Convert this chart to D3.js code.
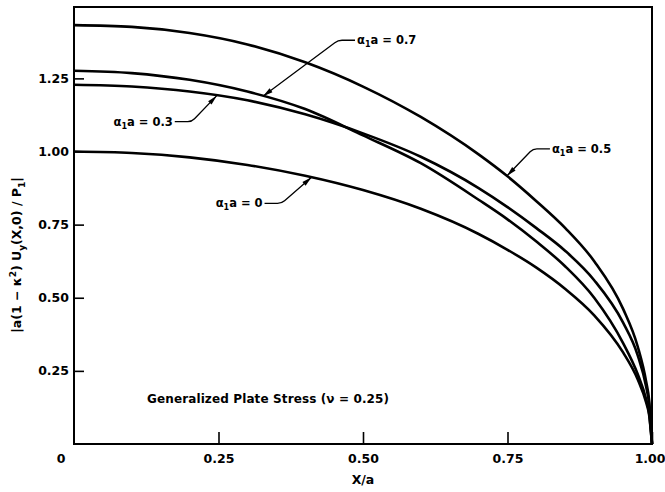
<!DOCTYPE html>
<html>
<head>
<meta charset="utf-8">
<script src="https://cdn.jsdelivr.net/npm/d3@7"></script>
<style>
  html, body { margin: 0; padding: 0; background: #fff; }
  svg { display: block; }
  text { font-family: 'DejaVu Sans', sans-serif; font-weight: bold; fill: #000; }
</style>
</head>
<body>
<svg id="chart" width="665" height="492"></svg>
<script>
// x positions (X/a) the curves were read at
const xValues = [0, 0.1, 0.2, 0.3, 0.4, 0.5, 0.6, 0.7, 0.75, 0.8, 0.85, 0.9, 0.95, 0.975, 0.99, 0.995, 1.0]

// |a(1-k^2) Uy(X,0) / P1| for each alpha1*a
const alpha0 = [1.000, 0.995, 0.980, 0.954, 0.917, 0.868, 0.804, 0.718, 0.664, 0.603, 0.530, 0.440, 0.313, 0.222, 0.141, 0.100, 0]
const alpha03 = [1.228, 1.222, 1.205, 1.175, 1.127, 1.062, 0.982, 0.875, 0.810, 0.738, 0.660, 0.560, 0.415, 0.305, 0.195, 0.137, 0]
const alpha05 = [1.432, 1.426, 1.405, 1.366, 1.305, 1.222, 1.118, 0.990, 0.915, 0.830, 0.738, 0.625, 0.462, 0.335, 0.212, 0.150, 0]
const alpha07 = [1.276, 1.268, 1.245, 1.205, 1.145, 1.055, 0.960, 0.835, 0.768, 0.692, 0.607, 0.500, 0.345, 0.240, 0.152, 0.106, 0]

const seriesNames = ['0', '0.3', '0.5', '0.7']
const seriesValues = [alpha0, alpha03, alpha05, alpha07]

const xTicks = [0.25, 0.5, 0.75, 1.0]
const yTicks = [0.25, 0.5, 0.75, 1.0, 1.25]

// where each leader arrow touches its curve (X/a)
const noteAt = [0.411, 0.247, 0.749, 0.327]

const svg = d3.select('#chart')
const margin = {left: 74, right: 13, top: 7, bottom: 48}
const W = 665, H = 492

const x = d3.scaleLinear().domain([0, 1]).range([margin.left, W - margin.right])
const y = d3.scaleLinear().domain([0, 1.494]).range([H - margin.bottom, margin.top])

const series = seriesNames.map((name, i) => ({
  name,
  points: xValues.map((xv, j) => ({x: xv, y: seriesValues[i][j]})),
}))

// frame
svg.append('rect')
  .attr('x', x(0)).attr('y', y.range()[1])
  .attr('width', x(1) - x(0)).attr('height', y(0) - y.range()[1])
  .attr('fill', 'none').attr('stroke', '#000').attr('stroke-width', 2)

// axes, ticks pointing inward
const xAxis = svg.append('g')
  .attr('transform', `translate(0,${y(0)})`)
  .call(d3.axisBottom(x).tickValues(xTicks).tickSizeInner(-12).tickSizeOuter(0).tickPadding(10).tickFormat(d3.format('.2f')))
const yAxis = svg.append('g')
  .attr('transform', `translate(${x(0)},0)`)
  .call(d3.axisLeft(y).tickValues(yTicks).tickSizeInner(-10).tickSizeOuter(0).tickPadding(5).tickFormat(d3.format('.2f')))

;[xAxis, yAxis].forEach((g) => {
  g.select('.domain').remove()
  g.selectAll('line').attr('stroke', '#000').attr('stroke-width', 1.6)
  g.selectAll('text').attr('font-family', 'DejaVu Sans').attr('font-size', 12.5).attr('font-weight', 'bold')
})
// last x label sits on the page edge, keep it inside
xAxis.selectAll('.tick').filter((d) => d === 1).select('text').attr('text-anchor', 'end').attr('x', 665 - x(1))

svg.append('text')
  .attr('x', 61).attr('y', 459).attr('dy', '0.35em')
  .attr('text-anchor', 'middle').attr('font-size', 12.5)
  .text('0')

// curves
const line = d3.line().x((d) => x(d.x)).y((d) => y(d.y)).curve(d3.curveMonotoneX)
svg.append('g')
  .selectAll('path')
  .data(series)
  .join('path')
  .attr('d', (d) => line(d.points))
  .attr('fill', 'none')
  .attr('stroke', '#000')
  .attr('stroke-width', 2.6)

// axis titles
svg.append('text')
  .attr('x', x(0.5)).attr('y', 480).attr('dy', '0.35em')
  .attr('text-anchor', 'middle').attr('font-size', 12.5)
  .text('X/a')

const yt = svg.append('text')
  .attr('transform', 'translate(17,255) rotate(-90)')
  .attr('text-anchor', 'middle').attr('dy', '0.35em').attr('font-size', 12.5)
yt.append('tspan').text('|a(1 − κ')
yt.append('tspan').attr('dy', -5).attr('font-size', 9).text('2')
yt.append('tspan').attr('dy', 5).text(') U')
yt.append('tspan').attr('dy', 4).attr('font-size', 9).text('y')
yt.append('tspan').attr('dy', -4).text('(X,0) / P')
yt.append('tspan').attr('dy', 4).attr('font-size', 9).text('1')
yt.append('tspan').attr('dy', -4).text('|')

svg.append('text')
  .attr('x', 147).attr('y', 399).attr('dy', '0.35em')
  .attr('font-size', 12).attr('letter-spacing', 0.12)
  .text('Generalized Plate  Stress (ν = 0.25)')

// leader annotations: bend offset from the tip and which side the label sits
const leaders = [
  {dx: -30, dy: 26, side: -1},
  {dx: -25, dy: 26, side: -1},
  {dx: 26, dy: -27, side: 1},
  {dx: 75, dy: -56, side: 1},
]

const interp = (pts, xv) => {
  const i = d3.bisector((d) => d.x).right(pts, xv) - 1
  const a = pts[Math.max(0, i)], b = pts[Math.min(pts.length - 1, i + 1)]
  const t = b.x === a.x ? 0 : (xv - a.x) / (b.x - a.x)
  return a.y + t * (b.y - a.y)
}

const notes = svg.append('g')
series.forEach((s, i) => {
  const tx = x(noteAt[i])
  const ty = y(interp(s.points, noteAt[i]))
  const L = leaders[i]
  const bx = tx + L.dx, by = ty + L.dy
  const hx = bx + L.side * 17

  const p = d3.path()
  p.moveTo(hx, by)
  p.lineTo(bx + L.side * 4, by)
  const ang = Math.atan2(ty - by, tx - bx)
  p.quadraticCurveTo(bx, by, bx + Math.cos(ang) * 4, by + Math.sin(ang) * 4)
  p.lineTo(tx, ty)
  notes.append('path').attr('d', p.toString()).attr('fill', 'none').attr('stroke', '#000').attr('stroke-width', 1.3)

  // arrow head
  const len = 10, half = 2.4
  const ux = Math.cos(ang), uy = Math.sin(ang)
  const baseX = tx - ux * len, baseY = ty - uy * len
  notes.append('path')
    .attr('d', `M${tx},${ty}L${baseX - uy * half},${baseY + ux * half}L${baseX + uy * half},${baseY - ux * half}Z`)
    .attr('fill', '#000')

  const label = notes.append('text')
    .attr('x', hx + L.side * 2).attr('y', by).attr('dy', '0.35em')
    .attr('text-anchor', L.side > 0 ? 'start' : 'end')
    .attr('font-size', 11.5)
  label.append('tspan').text('α')
  label.append('tspan').attr('dy', 3).attr('font-size', 8).text('1')
  label.append('tspan').attr('dy', -3).text(`a = ${s.name}`)
})
</script>
</body>
</html>
